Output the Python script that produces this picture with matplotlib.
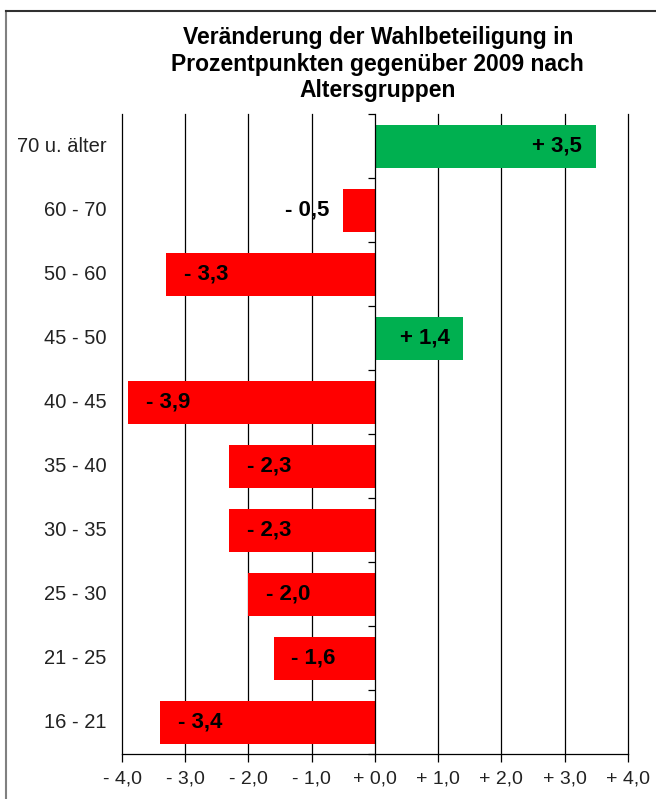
import matplotlib
matplotlib.use("Agg")
import matplotlib.pyplot as plt
from matplotlib.lines import Line2D
import matplotlib.transforms as mtransforms

plt.rcParams["font.family"] = ["Liberation Sans", "DejaVu Sans"]

title = "Veränderung der Wahlbeteiligung in\nProzentpunkten gegenüber 2009 nach\nAltersgruppen"
groups = ["70 u. älter", "60 - 70", "50 - 60", "45 - 50", "40 - 45",
          "35 - 40", "30 - 35", "25 - 30", "21 - 25", "16 - 21"]
changes = [3.5, -0.5, -3.3, 1.4, -3.9, -2.3, -2.3, -2.0, -1.6, -3.4]
x_ticks = [-4, -3, -2, -1, 0, 1, 2, 3, 4]

GREEN = "#00B050"
RED = "#FF0000"


def fmt(v):
    sign = "-" if v < 0 else "+"
    return f"{sign} {abs(v):.1f}".replace(".", ",")


fig = plt.figure(figsize=(6.56, 7.99), dpi=100)
ax = fig.add_axes([0.186, 0.056, 0.771, 0.801])

ypos = list(range(len(groups)))
colors = [GREEN if v > 0 else RED for v in changes]
ax.barh(ypos, changes, height=0.67, color=colors, zorder=3)

ax.set_xlim(-4, 4)
ax.set_ylim(len(groups) - 0.5, -0.5)

# vertical gridlines
for x in x_ticks:
    if x != 0:
        ax.axvline(x, color="black", lw=0.9, zorder=1, clip_on=False)

for s in ["top", "right"]:
    ax.spines[s].set_visible(False)
ax.spines["left"].set_position(("data", 0))
ax.spines["left"].set_zorder(4)
ax.spines["bottom"].set_linewidth(0.9)
ax.spines["left"].set_linewidth(0.9)

ax.set_xticks(x_ticks)
ax.set_xticklabels([fmt(x) for x in x_ticks], fontsize=14, color="#222222")
ax.tick_params(axis="x", direction="out", length=6, width=0.9, pad=6)

ax.set_yticks([i - 0.5 for i in range(len(groups) + 1)])
ax.set_yticklabels([])
ax.tick_params(axis="y", direction="out", length=5, width=0.9)

# category labels on the left
trans = mtransforms.blended_transform_factory(ax.transAxes, ax.transData)
for i, g in enumerate(groups):
    ax.text(-0.03, i, g, transform=trans, ha="right", va="center",
            fontsize=14.5, color="#222222")

# value labels
for i, v in enumerate(changes):
    if v > -1:
        ax.text(v - 0.22, i, fmt(v), ha="right", va="center",
                fontsize=16, fontweight="bold", zorder=5)
    else:
        ax.text(v + 0.28, i, fmt(v), ha="left", va="center",
                fontsize=16, fontweight="bold", zorder=5)

fig.text(0.576, 0.968, title, ha="center", va="top", fontsize=16.5,
         fontweight="bold", linespacing=1.22)

# outer frame
fig.add_artist(Line2D([6 / 656, 6 / 656], [0, 1 - 11 / 799],
                      transform=fig.transFigure, color="#808080", lw=1.5))
fig.add_artist(Line2D([6 / 656, 1], [1 - 11 / 799, 1 - 11 / 799],
                      transform=fig.transFigure, color="#303030", lw=1.5))

fig.savefig("out.png", dpi=100, facecolor="white")
